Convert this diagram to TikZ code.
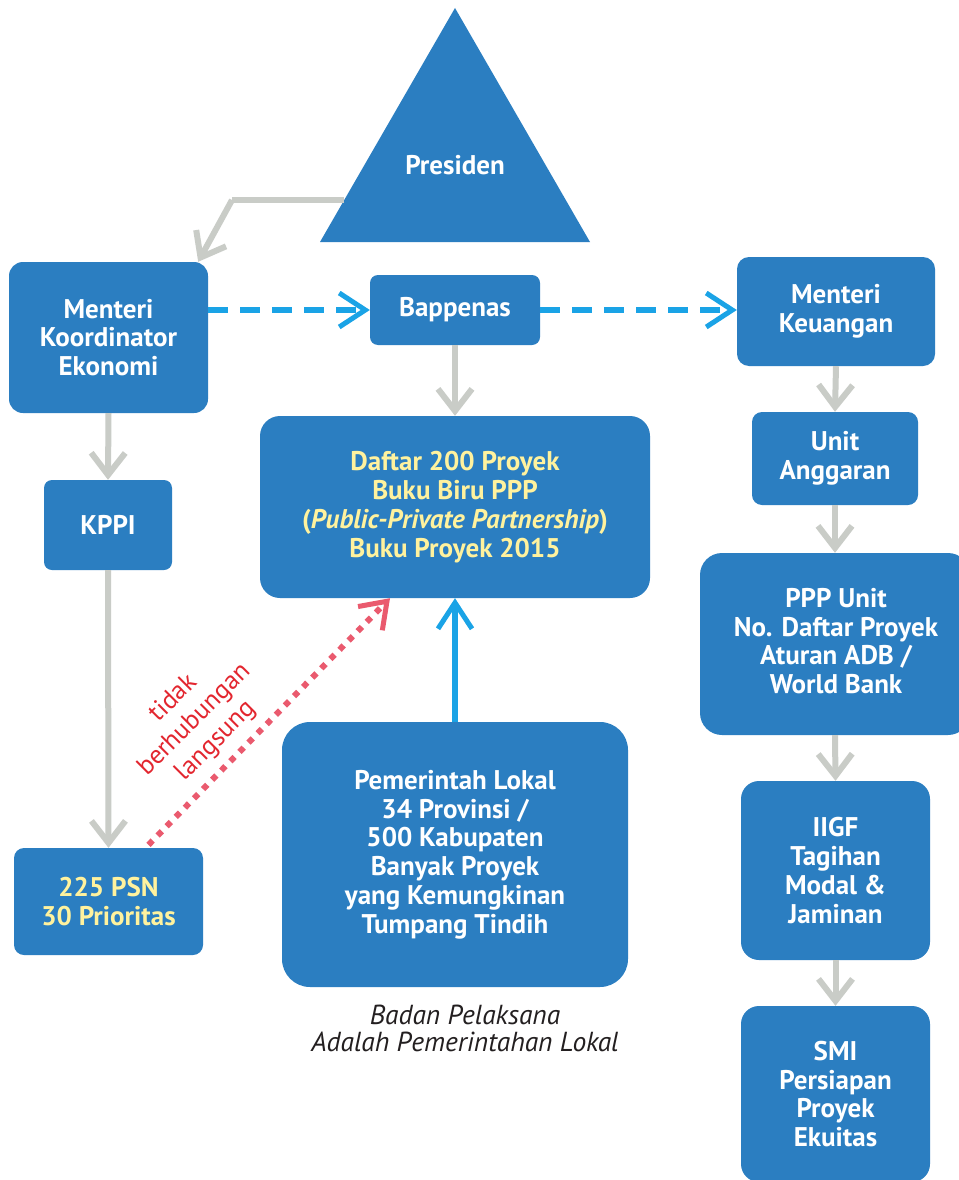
\documentclass[tikz,border=0pt]{standalone}
\usepackage{fontspec}
\setmainfont{PT Sans}
\usetikzlibrary{arrows.meta,calc}
\definecolor{boxblue}{HTML}{2B7EC1}
\definecolor{arrblue}{HTML}{1AA3E6}
\definecolor{agray}{HTML}{C9CCC7}
\definecolor{ylw}{HTML}{FFF29E}
\definecolor{redtxt}{HTML}{E3262F}
\definecolor{reddot}{HTML}{EA5A6E}
\definecolor{captxt}{HTML}{231F20}
\begin{document}
\begin{tikzpicture}[x=1pt,y=-1pt,
  box/.style={fill=boxblue, rounded corners=14pt, text=white,
    font=\bfseries\fontsize{27}{28.8}\selectfont, align=center, inner sep=0pt},
  ytext/.style={text=ylw},
  garrow/.style={draw=agray, line width=6pt,
    -{Straight Barb[length=22pt,width=34pt,line width=6pt]}},
  bdash/.style={draw=arrblue, line width=6pt, dash pattern=on 20pt off 12pt,
    -{Straight Barb[length=26pt,width=34pt,line width=5pt]}},
  bsolid/.style={draw=arrblue, line width=6pt,
    -{Straight Barb[length=26pt,width=34pt,line width=5pt]}},
  rdot/.style={draw=reddot, line width=6pt, dash pattern=on 6pt off 7pt,
    -{Straight Barb[length=24pt,width=34pt,line width=5pt]}},
]
\useasboundingbox (0,0) rectangle (958,1180);
\fill[white] (0,0) rectangle (958,1180);

% President triangle
\fill[boxblue] (455,8) -- (590,242) -- (320,242) -- cycle;
\node[text=white, font=\bfseries\fontsize{27}{28}\selectfont] (pres) at (455,165) {Presiden};
\coordinate (presl) at (344,200);
\coordinate (presk) at (232,200);

% left column
\node[box, minimum width=199pt, minimum height=151pt] (mke) at (108.5,337.5) {Menteri\\Koordinator\\Ekonomi};
\node[box, minimum width=128pt, minimum height=90pt, rounded corners=8pt] (kppi) at (108,525) {KPPI};
\node[box, ytext, minimum width=189pt, minimum height=107pt, rounded corners=10pt] (psn) at (108.5,901.5) {225 PSN\\30 Prioritas};

% middle column
\node[box, minimum width=170pt, minimum height=70pt, rounded corners=8pt] (bap) at (455,310) {Bappenas};
\node[box, ytext, minimum width=390pt, minimum height=182pt, rounded corners=20pt] (daftar) at (455,507) {Daftar 200 Proyek\\Buku Biru PPP\\(\textit{Public-Private Partnership})\\Buku Proyek 2015};
\node[box, minimum width=346pt, minimum height=265pt, rounded corners=28pt] (pem) at (455,854.5) {Pemerintah Lokal\\34 Provinsi /\\500 Kabupaten\\Banyak Proyek\\yang Kemungkinan\\Tumpang Tindih};
\node[text=captxt, font=\itshape\fontsize{27.5}{27}\selectfont, align=center] (cap) at (465,1028) {Badan Pelaksana\\Adalah Pemerintahan Lokal};

% right column
\node[box, minimum width=198pt, minimum height=109pt, rounded corners=12pt] (mk) at (836,311.5) {Menteri\\Keuangan};
\node[box, minimum width=166pt, minimum height=93pt, rounded corners=10pt] (ua) at (835,458.5) {Unit\\Anggaran};
\node[box, minimum width=270pt, minimum height=182pt, rounded corners=22pt] (ppp) at (835,644) {};
\node[text=white, font=\bfseries\fontsize{27}{28.8}\selectfont, align=center] (ppptxt) at (836,641) {PPP Unit\\No. Daftar Proyek\\Aturan ADB /\\World Bank};
\node[box, minimum width=189pt, minimum height=179pt, rounded corners=18pt] (iigf) at (835.5,870.5) {IIGF\\Tagihan\\Modal \&\\Jaminan};
\node[box, minimum width=189pt, minimum height=176pt, rounded corners=18pt] (smi) at (835.5,1094) {SMI\\Persiapan\\Proyek\\Ekuitas};

% connectors
\draw[garrow, -] (presl) -- (presk);
\draw[garrow] (presk) -- ($(mke.north east)+(-10,0)$);
\draw[bdash] (mke.east |- bap.west) -- (bap.west);
\draw[bdash] (bap.east) -- (mk.west |- bap.east);
\draw[garrow] (bap.south) -- (daftar.north);
\draw[garrow] (mke.south) -- (kppi.north);
\draw[garrow] (kppi.south) -- (psn.north);
\draw[bsolid] (pem.north) -- (daftar.south);
\draw[rdot] ($(psn.north)+(40,-3)$) coordinate (rs) -- ($(daftar.south)+(-65,0)$) coordinate (re);
\node[text=redtxt, font=\fontsize{26}{30}\selectfont, align=center, rotate=45] (lbl) at (195,720) {tidak\\berhubungan\\langsung};

\draw[garrow] (mk.south) -- (ua.north);
\draw[garrow] (ua.south) -- (ppp.north);
\draw[garrow] (ppp.south) -- (iigf.north);
\draw[garrow] (iigf.south) -- (smi.north);
\end{tikzpicture}
\end{document}
